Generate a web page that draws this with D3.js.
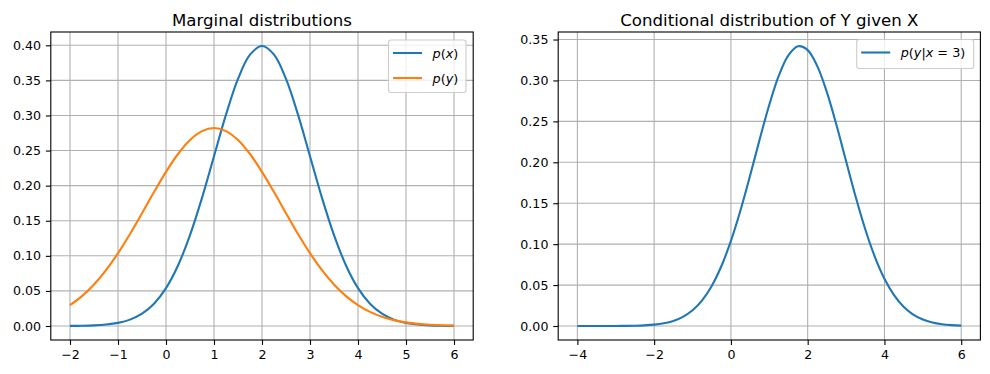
<!DOCTYPE html>
<html>
<head>
<meta charset="utf-8">
<script src="https://cdn.jsdelivr.net/npm/d3@7"></script>
<style>
  body { margin: 0; background: #fff; }
  text { font-family: "DejaVu Sans", sans-serif; fill: #000; }
</style>
</head>
<body>
<div id="chart"></div>
<script>
// sample positions and densities
const xMarginal = [-2, -1.75, -1.5, -1.25, -1, -0.75, -0.5, -0.25, 0, 0.25, 0.5, 0.75, 1, 1.25, 1.5, 1.75,
    2, 2.25, 2.5, 2.75, 3, 3.25, 3.5, 3.75, 4, 4.25, 4.5, 4.75, 5, 5.25, 5.5, 5.75, 6];
const px = [0.00013, 0.00035, 0.00087, 0.00203, 0.00443, 0.00909, 0.01753, 0.03174, 0.05399, 0.08628,
    0.12952, 0.18265, 0.24197, 0.30114, 0.35207, 0.38667, 0.39894, 0.38667, 0.35207, 0.30114, 0.24197,
    0.18265, 0.12952, 0.08628, 0.05399, 0.03174, 0.01753, 0.00909, 0.00443, 0.00203, 0.00087, 0.00035, 0.00013];
const py = [0.02973, 0.04259, 0.05913, 0.07957, 0.10378, 0.13119, 0.16073, 0.19087, 0.21969, 0.24509,
    0.26500, 0.27772, 0.28209, 0.27772, 0.26500, 0.24509, 0.21969, 0.19087, 0.16073, 0.13119, 0.10378,
    0.07957, 0.05913, 0.04259, 0.02973, 0.02012, 0.01319, 0.00839, 0.00517, 0.00308, 0.00179, 0.00100, 0.00055];

const xCond = [-4, -3.75, -3.5, -3.25, -3, -2.75, -2.5, -2.25, -2, -1.75, -1.5, -1.25, -1, -0.75, -0.5, -0.25,
    0, 0.25, 0.5, 0.75, 1, 1.25, 1.5, 1.75, 2, 2.25, 2.5, 2.75, 3, 3.25, 3.5, 3.75, 4, 4.25, 4.5, 4.75,
    5, 5.25, 5.5, 5.75, 6];
const pyGivenX = [0.000001, 0.000004, 0.000011, 0.000029, 0.000072, 0.00017, 0.00038, 0.00082, 0.00169,
    0.00333, 0.00624, 0.01119, 0.01916, 0.03132, 0.04892, 0.07297, 0.10396, 0.14143, 0.18379, 0.22811,
    0.27035, 0.30608, 0.33096, 0.34178, 0.33710, 0.31755, 0.28570, 0.24550, 0.20147, 0.15793, 0.11822,
    0.08453, 0.05772, 0.03765, 0.02345, 0.01395, 0.00793, 0.00430, 0.00223, 0.00110, 0.00052];

const leftXTicks = [-2, -1, 0, 1, 2, 3, 4, 5, 6];
const leftYTicks = [0, 0.05, 0.10, 0.15, 0.20, 0.25, 0.30, 0.35, 0.40];
const rightXTicks = [-4, -2, 0, 2, 4, 6];
const rightYTicks = [0, 0.05, 0.10, 0.15, 0.20, 0.25, 0.30, 0.35];

const blue = "#1f77b4", orange = "#ff7f0e";

const svg = d3.select("#chart").append("svg")
    .attr("width", 990).attr("height", 374);

const fmtX = (d) => String(d).replace("-", "\u2212");
const fmtY = d3.format(".2f");

function drawPanel(opts) {
    const x = d3.scaleLinear().domain(opts.xDomain).range([opts.left, opts.right]);
    const y = d3.scaleLinear().domain(opts.yDomain).range([opts.bottom, opts.top]);
    const g = svg.append("g");

    // grid
    g.selectAll("line.gx").data(opts.xTicks).enter().append("line")
        .attr("x1", (d) => x(d)).attr("x2", (d) => x(d))
        .attr("y1", opts.top).attr("y2", opts.bottom)
        .attr("stroke", "#b0b0b0").attr("stroke-width", 1.1);
    g.selectAll("line.gy").data(opts.yTicks).enter().append("line")
        .attr("y1", (d) => y(d)).attr("y2", (d) => y(d))
        .attr("x1", opts.left).attr("x2", opts.right)
        .attr("stroke", "#b0b0b0").attr("stroke-width", 1.1);

    // curves
    const line = d3.line()
        .x((d) => x(d[0])).y((d) => y(d[1]))
        .curve(d3.curveCatmullRom.alpha(0.5));
    opts.series.forEach((s) => {
        g.append("path")
            .datum(s.xs.map((v, i) => [v, s.ys[i]]))
            .attr("d", line)
            .attr("fill", "none")
            .attr("stroke", s.color)
            .attr("stroke-width", 2.1);
    });

    // axes
    const xAxis = d3.axisBottom(x).tickValues(opts.xTicks).tickFormat(fmtX)
        .tickSize(4.9).tickPadding(4.9);
    const yAxis = d3.axisLeft(y).tickValues(opts.yTicks).tickFormat(fmtY)
        .tickSize(4.9).tickPadding(4.9);
    const ax = g.append("g").attr("transform", `translate(0,${opts.bottom})`).call(xAxis);
    const ay = g.append("g").attr("transform", `translate(${opts.left},0)`).call(yAxis);
    [ax, ay].forEach((a) => {
        a.select(".domain").remove();
        a.selectAll("line").attr("stroke", "#000").attr("stroke-width", 1.1);
        a.selectAll("text").attr("font-family", "DejaVu Sans").attr("font-size", 12.6).attr("fill", "#000");
    });
    ax.selectAll("text").attr("dy", "0.72em");

    // frame
    g.append("rect")
        .attr("x", opts.left).attr("y", opts.top)
        .attr("width", opts.right - opts.left).attr("height", opts.bottom - opts.top)
        .attr("fill", "none").attr("stroke", "#000").attr("stroke-width", 1.1);

    // title
    g.append("text")
        .attr("x", (opts.left + opts.right) / 2).attr("y", 26)
        .attr("text-anchor", "middle").attr("font-size", 16.6)
        .text(opts.title);

    // legend
    const lg = g.append("g");
    lg.append("rect")
        .attr("x", opts.legend.x).attr("y", opts.legend.y)
        .attr("width", opts.legend.w).attr("height", opts.legend.h)
        .attr("rx", 2.5)
        .attr("fill", "#fff").attr("fill-opacity", 0.8)
        .attr("stroke", "#cccccc").attr("stroke-width", 1.1);
    opts.series.forEach((s, i) => {
        const cy = opts.legend.y + 13 + i * 25;
        lg.append("line")
            .attr("x1", opts.legend.x + 4.5).attr("x2", opts.legend.x + 33.5)
            .attr("y1", cy).attr("y2", cy)
            .attr("stroke", s.color).attr("stroke-width", 2.1);
        const t = lg.append("text")
            .attr("x", opts.legend.x + 44).attr("y", cy + 4.5)
            .attr("font-size", 12.8);
        s.label.forEach((part) => {
            t.append("tspan")
                .attr("font-style", part[1] ? "italic" : "normal")
                .text(part[0]);
        });
    });
}

drawPanel({
    title: "Marginal distributions",
    left: 50.8, right: 473.2, top: 32, bottom: 340,
    xDomain: [-2.4, 6.4], yDomain: [-0.01995, 0.41895],
    xTicks: leftXTicks, yTicks: leftYTicks,
    legend: { x: 388.5, y: 40, w: 77.5, h: 52.5 },
    series: [
        { xs: xMarginal, ys: px, color: blue, label: [["p", true], ["(", false], ["x", true], [")", false]] },
        { xs: xMarginal, ys: py, color: orange, label: [["p", true], ["(", false], ["y", true], [")", false]] }
    ]
});

drawPanel({
    title: "Conditional distribution of Y given X",
    left: 558.2, right: 980.4, top: 32, bottom: 340,
    xDomain: [-4.5, 6.5], yDomain: [-0.0171, 0.3592],
    xTicks: rightXTicks, yTicks: rightYTicks,
    legend: { x: 856.7, y: 39.5, w: 117, h: 29 },
    series: [
        { xs: xCond, ys: pyGivenX, color: blue,
          label: [["p", true], ["(", false], ["y", true], ["|", false], ["x", true], [" = 3)", false]] }
    ]
});
</script>
</body>
</html>
